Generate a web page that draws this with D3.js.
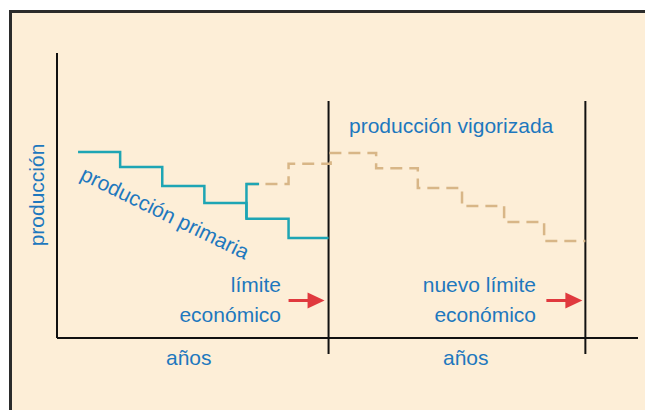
<!DOCTYPE html>
<html>
<head>
<meta charset="utf-8">
<script src="https://cdn.jsdelivr.net/npm/d3@7"></script>
<style>
  body { margin: 0; background: #fff; }
  text { font-family: "Liberation Sans", Arial, sans-serif; fill: #1e78be; }
</style>
</head>
<body>
<div id="chart"></div>
<script>
// step data (years, production in arbitrary units 0-100)
var primaryYears = [0, 1, 2, 3, 4, 5, 5.95];
var primaryProd  = [65.3, 60.0, 53.3, 47.4, 41.8, 35.1, 35.1];

var vigorYears = [4, 5, 6, 7.08, 8.07, 9.12, 10.12, 11.07, 12.05];
var vigorProd  = [54.0, 61.1, 64.9, 59.6, 52.6, 46.3, 40.7, 34.0, 34.0];

var limitYears = [5.95, 12.05];          // límite económico, nuevo límite económico
var startYear = 4, stubYear = 4.3;      // where the vigorized production begins

var W = 645, H = 410;

var svg = d3.select("#chart").append("svg")
    .attr("width", W)
    .attr("height", H);

// cream panel with dark frame (runs off the right and bottom)
svg.append("rect")
    .attr("x", 10.5).attr("y", 11.5)
    .attr("width", 700).attr("height", 500)
    .attr("fill", "#fdeed7")
    .attr("stroke", "#2b2b2b")
    .attr("stroke-width", 3);

var x = d3.scaleLinear().domain([-0.5, 13.3]).range([57, 638]);
var y = d3.scaleLinear().domain([0, 100]).range([338, 53]);

var toPts = (xs, ys) => xs.map((d, i) => [x(d), y(ys[i])]);
var stepLine = d3.line().curve(d3.curveStepAfter);

// axes
svg.append("line")
    .attr("x1", x(-0.5)).attr("x2", x(-0.5))
    .attr("y1", y(100)).attr("y2", y(0))
    .attr("stroke", "#111").attr("stroke-width", 2);
svg.append("line")
    .attr("x1", x(-0.5)).attr("x2", x(13.3))
    .attr("y1", y(0)).attr("y2", y(0))
    .attr("stroke", "#111").attr("stroke-width", 2);

// economic limit verticals
svg.selectAll(".limit")
    .data(limitYears)
    .enter().append("line")
    .attr("x1", d => x(d)).attr("x2", d => x(d))
    .attr("y1", 101).attr("y2", 354)
    .attr("stroke", "#111").attr("stroke-width", 2);

// vigorized production (dashed)
svg.append("path")
    .attr("d", stepLine(toPts(vigorYears, vigorProd)))
    .attr("fill", "none")
    .attr("stroke", "#d8b687")
    .attr("stroke-width", 2.5)
    .attr("stroke-dasharray", "12,7");

// primary production
svg.append("path")
    .attr("d", stepLine(toPts(primaryYears, primaryProd)))
    .attr("fill", "none")
    .attr("stroke", "#1ea5b4")
    .attr("stroke-width", 2.5);

// teal jump where the new production starts
var iStart = primaryYears.indexOf(startYear);
svg.append("path")
    .attr("d", d3.line()([
        [x(startYear), y(primaryProd[iStart])],
        [x(startYear), y(vigorProd[0])],
        [x(stubYear), y(vigorProd[0])]
    ]))
    .attr("fill", "none")
    .attr("stroke", "#1ea5b4")
    .attr("stroke-width", 2.5);

// red arrows
function arrow(xEnd, yy) {
    svg.append("line")
        .attr("x1", xEnd - 36).attr("x2", xEnd - 14)
        .attr("y1", yy).attr("y2", yy)
        .attr("stroke", "#e0393e").attr("stroke-width", 3);
    svg.append("path")
        .attr("d", `M${xEnd - 17},${yy - 8}L${xEnd},${yy}L${xEnd - 17},${yy + 8}Z`)
        .attr("fill", "#e0393e");
}
arrow(x(limitYears[0]) - 4, 300.5);
arrow(x(limitYears[1]) - 3, 300.5);

// labels
var fs = 21;
svg.append("text")
    .attr("transform", "translate(44,195) rotate(-90)")
    .attr("text-anchor", "middle")
    .style("font-size", fs + "px")
    .text("producción");

svg.append("text")
    .attr("x", 349).attr("y", 133)
    .style("font-size", fs + "px")
    .text("producción vigorizada");

svg.append("text")
    .attr("transform", "translate(79,179) rotate(26)")
    .style("font-size", fs + "px")
    .text("producción primaria");

svg.append("text").attr("x", 281).attr("y", 292)
    .attr("text-anchor", "end").style("font-size", fs + "px").text("límite");
svg.append("text").attr("x", 281).attr("y", 322)
    .attr("text-anchor", "end").style("font-size", fs + "px").text("económico");

svg.append("text").attr("x", 536).attr("y", 292)
    .attr("text-anchor", "end").style("font-size", fs + "px").text("nuevo límite");
svg.append("text").attr("x", 536).attr("y", 322)
    .attr("text-anchor", "end").style("font-size", fs + "px").text("económico");

svg.append("text").attr("x", 166).attr("y", 365)
    .style("font-size", fs + "px").text("años");
svg.append("text").attr("x", 443).attr("y", 365)
    .style("font-size", fs + "px").text("años");
</script>
</body>
</html>
